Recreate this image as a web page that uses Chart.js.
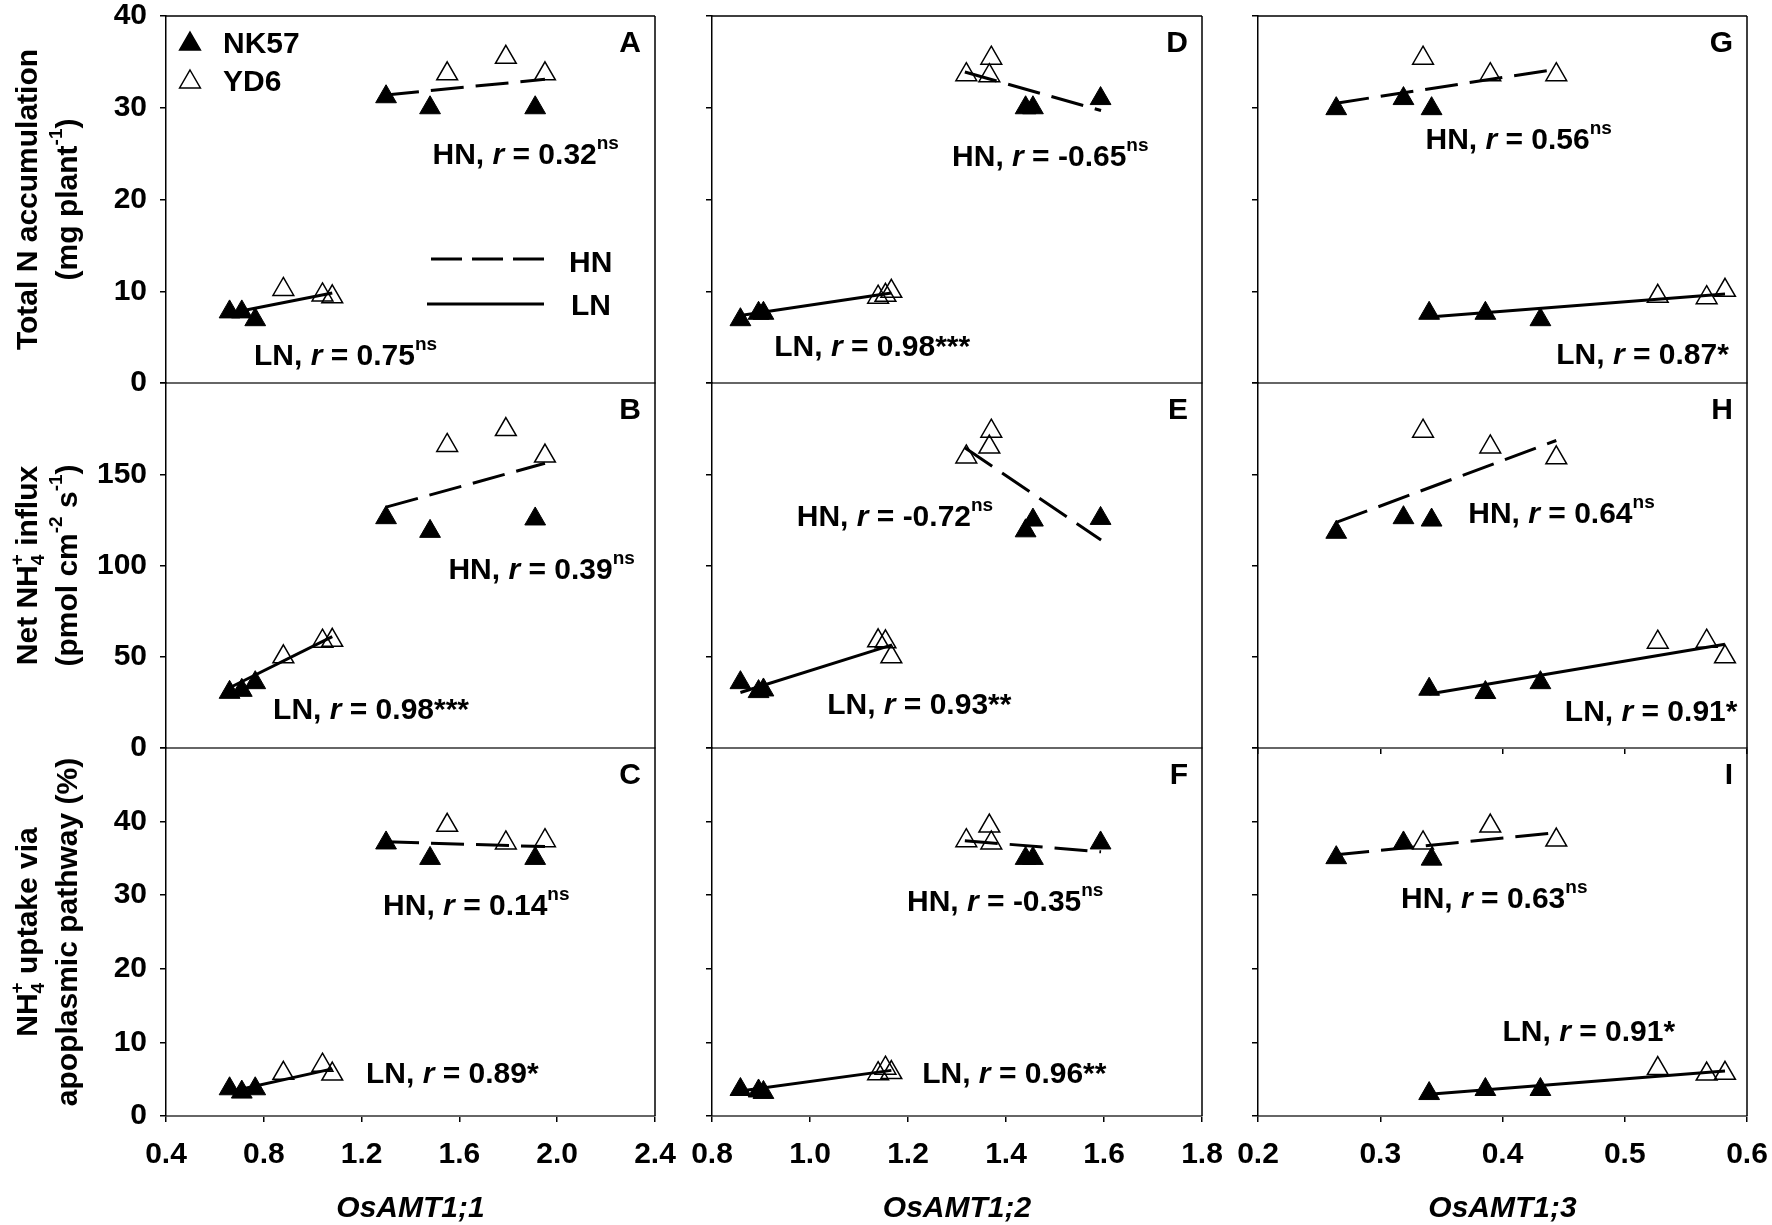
<!DOCTYPE html>
<html>
<head>
<meta charset="utf-8">
<title>OsAMT1 expression vs N uptake</title>
<script src="https://cdn.jsdelivr.net/npm/chart.js@4.4.1/dist/chart.umd.min.js"></script>
<style>
  html, body { margin: 0; padding: 0; background: #fff; }
  #wrap { position: relative; width: 1772px; height: 1225px; }
  #wrap canvas { position: absolute; left: 0; top: 0; }
</style>
</head>
<body>
<div id="wrap"></div>
<script>
// ---- data -------------------------------------------------------------
// columns: one gene each; x values are shared by the three rows of a column
const geneNames = ['OsAMT1;1', 'OsAMT1;2', 'OsAMT1;3'];
const xMin = [0.4, 0.8, 0.2];
const xMax = [2.4, 1.8, 0.6];
const xStep = [0.4, 0.2, 0.1];

const nkHnX = [[1.30, 1.48, 1.91], [1.44, 1.455, 1.593], [0.264, 0.319, 0.342]];
const ydHnX = [[1.55, 1.79, 1.95], [1.319, 1.366, 1.370], [0.335, 0.390, 0.444]];
const nkLnX = [[0.66, 0.71, 0.765], [0.858, 0.895, 0.905], [0.340, 0.386, 0.431]];
const ydLnX = [[0.88, 1.04, 1.08], [1.139, 1.154, 1.166], [0.527, 0.567, 0.582]];

// rows: measured trait
const yMax = [40, 200, 50];
const yStep = [10, 50, 10];

// panels A..I (A,B,C = first column)
const panelLetters = ['A', 'B', 'C', 'D', 'E', 'F', 'G', 'H', 'I'];
const nkHnY = [[31.2, 30.0, 30.0], [126.2, 118.7, 125.5], [37.1, 35.0, 35.0],
  [30.0, 30.0, 31.0], [119, 124.9, 125.8], [35.0, 35.0, 37.1],
  [29.9, 31.0, 29.9], [118.2, 126.2, 124.9], [35.1, 37.1, 34.9]];
const ydHnY = [[33.7, 35.5, 33.7], [165.8, 174.5, 160], [39.5, 37.1, 37.4],
  [33.6, 33.5, 35.4], [159.5, 164.9, 173.6], [37.4, 39.4, 37.1],
  [35.4, 33.6, 33.6], [173.6, 165, 159], [37.1, 39.4, 37.5]];
const nkLnY = [[7.75, 7.75, 6.9], [30.5, 31.6, 35.8], [3.7, 3.25, 3.7],
  [6.9, 7.6, 7.6], [35.8, 30.9, 31.8], [3.6, 3.4, 3.2],
  [7.6, 7.6, 6.9], [32.2, 30.4, 35.8], [3.05, 3.6, 3.6]];
const ydLnY = [[10.2, 9.6, 9.4], [50, 58.5, 59], [5.8, 6.9, 5.7],
  [9.35, 9.56, 10.0], [58.7, 58.2, 50], [5.75, 6.5, 5.9],
  [9.45, 9.3, 10.1], [58, 58.5, 50], [6.45, 5.7, 5.8]];

// regression lines, end points
const hnFitX = [[1.30, 1.95], [1.316, 1.594], [0.264, 0.444]];
const lnFitX = [[0.66, 1.08], [0.858, 1.166], [0.340, 0.582]];
const hnFitY = [[31.4, 33.1], [132, 156], [37.25, 36.6], [33.9, 29.7], [164.5, 114],
  [37.4, 35.9], [30.5, 34.2], [123.6, 168.5], [35.5, 38.5]];
const lnFitY = [[7.6, 9.8], [33, 61], [3.3, 6.4], [7.35, 9.8], [30.4, 56.4],
  [3.4, 6.2], [7.2, 9.7], [29.6, 56.9], [2.95, 6.1]];

// correlation labels
const hnR = ['0.32', '0.39', '0.14', '-0.65', '-0.72', '-0.35', '0.56', '0.64', '0.63'];
const hnSig = ['ns', 'ns', 'ns', 'ns', 'ns', 'ns', 'ns', 'ns', 'ns'];
const lnR = ['0.75', '0.98', '0.89', '0.98', '0.93', '0.96', '0.87', '0.91', '0.91'];
const lnSig = ['ns', '***', '*', '***', '**', '**', '*', '*', '*'];

// where the labels sit, in data units of each panel (left edge, middle)
const hnNoteX = [1.49, 1.555, 1.288, 1.29, 0.973, 1.198, 0.337, 0.372, 0.317];
const hnNoteY = [25.1, 98.6, 28.8, 24.8, 127.7, 29.3, 26.7, 129.3, 29.8];
const lnNoteX = [0.76, 0.838, 1.218, 0.927, 1.035, 1.229, 0.444, 0.451, 0.40];
const lnNoteY = [3.2, 21.9, 6.0, 4.1, 24.7, 6.0, 3.3, 20.8, 11.7];

// ---- layout -------------------------------------------------------------
const W = 1772;
const H = 1225;
const colLeft = [166, 712, 1258];
const colRight = [655, 1202, 1747];
const rowTop = [16, 383, 748];
const rowBottom = [383, 748, 1116];
const Y_BOX = 80;
const X_BOX = 60;
const FONT = "'Liberation Sans', Arial, Helvetica, sans-serif";
const TXT = 30;

const yTitles = [
  [[['Total N accumulation', '']], [['(mg plant', ''], ['-1', 'sup'], [')', '']]],
  [[['Net NH', ''], ['4|+', 'ss'], [' influx', '']],
    [['(pmol cm', ''], ['-2', 'sup'], [' s', ''], ['-1', 'sup'], [')', '']]],
  [[['NH', ''], ['4|+', 'ss'], [' uptake via', '']], [['apoplasmic pathway (%)', '']]],
];

Chart.defaults.font.family = FONT;
Chart.defaults.color = '#000';

const pts = (xs, ys) => xs.map((x, i) => ({ x, y: ys[i] }));

// ---- rich text (italics, sub/superscripts) ----------------------------
function partFont(style, size) {
  const small = style === 'sup' || style === 'sub' || style === 'ss';
  const s = small ? Math.round(size * 0.64) : size;
  return (style === 'i' ? 'italic ' : '') + 'bold ' + s + 'px ' + FONT;
}

function partWidth(ctx, text, style, size) {
  ctx.font = partFont(style, size);
  if (style === 'ss') {
    const [a, b] = text.split('|');
    return Math.max(ctx.measureText(a).width, ctx.measureText(b).width);
  }
  return ctx.measureText(text).width;
}

function drawRich(ctx, parts, x, y, size, align) {
  let total = 0;
  parts.forEach(([t, st]) => { total += partWidth(ctx, t, st, size); });
  let cx = align === 'center' ? x - total / 2 : x;
  ctx.textAlign = 'left';
  ctx.textBaseline = 'alphabetic';
  ctx.fillStyle = '#000';
  parts.forEach(([t, st]) => {
    const w = partWidth(ctx, t, st, size);
    if (st === 'ss') {
      const [a, b] = t.split('|');
      ctx.fillText(a, cx, y + size * 0.22);
      ctx.fillText(b, cx, y - size * 0.48);
    } else {
      const dy = st === 'sup' ? -size * 0.5 : (st === 'sub' ? size * 0.22 : 0);
      ctx.fillText(t, cx, y + dy);
    }
    cx += w;
  });
}

function triangle(ctx, x, y, rad, filled) {
  ctx.beginPath();
  ctx.moveTo(x, y - rad);
  ctx.lineTo(x + 0.866 * rad, y + 0.5 * rad);
  ctx.lineTo(x - 0.866 * rad, y + 0.5 * rad);
  ctx.closePath();
  ctx.lineWidth = 1.5;
  ctx.strokeStyle = '#000';
  if (filled) {
    ctx.fillStyle = '#000';
    ctx.fill();
  }
  ctx.stroke();
}

// ---- one chart per panel ------------------------------------------------
function makeDecor(p, r, c) {
  return {
    id: 'decor' + p,
    afterDraw(chart) {
      const ctx = chart.ctx;
      const a = chart.chartArea;
      const sx = chart.scales.x;
      const sy = chart.scales.y;
      ctx.save();

      // rest of the frame
      ctx.strokeStyle = '#000';
      ctx.lineWidth = 1.5;
      ctx.beginPath();
      ctx.moveTo(a.right, a.top);
      ctx.lineTo(a.right, a.bottom);
      if (r === 0) {
        ctx.moveTo(a.left, a.top);
        ctx.lineTo(a.right, a.top);
      }
      ctx.stroke();

      // panel letter
      ctx.font = 'bold ' + TXT + 'px ' + FONT;
      ctx.fillStyle = '#000';
      ctx.textAlign = 'right';
      ctx.textBaseline = 'alphabetic';
      ctx.fillText(panelLetters[p], a.right - 14, a.top + 36);

      // correlation labels
      const hn = [['HN, ', ''], ['r', 'i'], [' = ' + hnR[p], ''], [hnSig[p], 'sup']];
      const ln = [['LN, ', ''], ['r', 'i'], [' = ' + lnR[p], ''],
        [lnSig[p], lnSig[p] === 'ns' ? 'sup' : '']];
      drawRich(ctx, hn, sx.getPixelForValue(hnNoteX[p]), sy.getPixelForValue(hnNoteY[p]) + 11, TXT, 'left');
      drawRich(ctx, ln, sx.getPixelForValue(lnNoteX[p]), sy.getPixelForValue(lnNoteY[p]) + 11, TXT, 'left');

      // y titles on the first column
      if (c === 0) {
        const mid = (a.top + a.bottom) / 2;
        [37, 77].forEach((bx, k) => {
          ctx.save();
          ctx.translate(bx, mid);
          ctx.rotate(-Math.PI / 2);
          drawRich(ctx, yTitles[r][k], 0, 0, 30, 'center');
          ctx.restore();
        });
      }

      // x titles under the bottom row
      if (r === 2) {
        ctx.font = 'italic bold 30px ' + FONT;
        ctx.textAlign = 'center';
        ctx.fillText(geneNames[c], (a.left + a.right) / 2, 1217);
      }

      // legends live in panel A
      if (p === 0) {
        triangle(ctx, a.left + 24, a.top + 28, 12, true);
        triangle(ctx, a.left + 24, a.top + 66, 12, false);
        ctx.font = 'bold ' + TXT + 'px ' + FONT;
        ctx.textAlign = 'left';
        ctx.fillStyle = '#000';
        ctx.fillText('NK57', a.left + 57, a.top + 37);
        ctx.fillText('YD6', a.left + 57, a.top + 75);

        ctx.lineWidth = 3;
        ctx.setLineDash([31, 10]);
        ctx.beginPath();
        ctx.moveTo(a.left + 265, a.top + 243);
        ctx.lineTo(a.left + 378, a.top + 243);
        ctx.stroke();
        ctx.setLineDash([]);
        ctx.beginPath();
        ctx.moveTo(a.left + 261, a.top + 288);
        ctx.lineTo(a.left + 378, a.top + 288);
        ctx.stroke();
        ctx.fillText('HN', a.left + 403, a.top + 256);
        ctx.fillText('LN', a.left + 405, a.top + 299);
      }
      ctx.restore();
    },
  };
}

const wrap = document.getElementById('wrap');

for (let c = 0; c < 3; c++) {
  for (let r = 0; r < 3; r++) {
    const p = c * 3 + r;
    const canvas = document.createElement('canvas');
    canvas.width = W;
    canvas.height = H;
    wrap.appendChild(canvas);

    // eslint-disable-next-line no-new
    new Chart(canvas, {
      type: 'scatter',
      data: {
        datasets: [
          {
            label: 'HN fit',
            data: pts(hnFitX[c], hnFitY[p]),
            showLine: true,
            borderColor: '#000',
            borderWidth: 3,
            borderDash: [33, 12],
            pointRadius: 0,
            order: 0,
          },
          {
            label: 'LN fit',
            data: pts(lnFitX[c], lnFitY[p]),
            showLine: true,
            borderColor: '#000',
            borderWidth: 3,
            pointRadius: 0,
            order: 0,
          },
          {
            label: 'NK57',
            data: pts(nkHnX[c], nkHnY[p]).concat(pts(nkLnX[c], nkLnY[p])),
            pointStyle: 'triangle',
            pointRadius: 12,
            backgroundColor: '#000',
            borderColor: '#000',
            borderWidth: 1,
            order: 1,
          },
          {
            label: 'YD6',
            data: pts(ydHnX[c], ydHnY[p]).concat(pts(ydLnX[c], ydLnY[p])),
            pointStyle: 'triangle',
            pointRadius: 12,
            backgroundColor: 'rgba(255,255,255,0)',
            borderColor: '#000',
            borderWidth: 1.5,
            order: 1,
          },
        ],
      },
      options: {
        responsive: false,
        animation: false,
        devicePixelRatio: 1,
        events: [],
        layout: {
          padding: {
            left: colLeft[c] - Y_BOX,
            right: W - colRight[c],
            top: rowTop[r],
            bottom: H - rowBottom[r] - X_BOX,
          },
        },
        plugins: {
          legend: { display: false },
          tooltip: { enabled: false },
        },
        scales: {
          x: {
            type: 'linear',
            min: xMin[c],
            max: xMax[c],
            ticks: {
              display: r === 2,
              stepSize: xStep[c],
              autoSkip: false,
              maxRotation: 0,
              padding: 15,
              color: '#000',
              font: { size: TXT, weight: 'bold' },
              callback: (v) => v.toFixed(1),
            },
            grid: {
              display: r === 2 || p === 7,
              drawOnChartArea: false,
              drawTicks: true,
              tickLength: 6,
              color: '#000',
              lineWidth: 1.5,
            },
            border: { display: true, color: '#666', width: 2 },
            afterFit: (s) => {
              s.height = X_BOX;
              s.paddingLeft = 0;
              s.paddingRight = 0;
            },
          },
          y: {
            type: 'linear',
            min: 0,
            max: yMax[r],
            ticks: {
              display: c === 0,
              stepSize: yStep[r],
              padding: 13,
              color: '#000',
              font: { size: TXT, weight: 'bold' },
              callback: (v) => ((r > 0 && v === yMax[r]) ? '' : String(v)),
            },
            grid: {
              display: true,
              drawOnChartArea: false,
              drawTicks: true,
              tickLength: 6,
              color: '#000',
              lineWidth: 1.5,
            },
            border: { display: true, color: '#000', width: 1.5 },
            afterFit: (s) => {
              s.width = Y_BOX;
              s.paddingTop = 0;
              s.paddingBottom = 0;
            },
          },
        },
      },
      plugins: [makeDecor(p, r, c)],
    });
  }
}
</script>
</body>
</html>
